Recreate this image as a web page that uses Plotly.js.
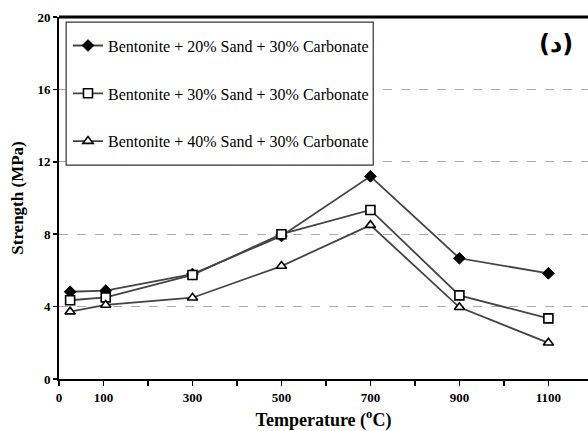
<!DOCTYPE html>
<html>
<head>
<meta charset="utf-8">
<script src="https://cdn.plot.ly/plotly-3.0.1.min.js"></script>
<style>html,body{margin:0;padding:0;background:#fff;}#chart{width:588px;height:431px;}</style>
</head>
<body>
<div id="chart"></div>
<script>
const temperature = [25, 105, 300, 500, 700, 900, 1100];
const sand20 = [4.82, 4.88, 5.8, 7.9, 11.2, 6.67, 5.84];
const sand30 = [4.35, 4.51, 5.75, 8.0, 9.34, 4.62, 3.35];
const sand40 = [3.72, 4.09, 4.49, 6.24, 8.5, 3.96, 2.0];
const seriesNames = [
  'Bentonite + 20% Sand + 30% Carbonate',
  'Bentonite + 30% Sand + 30% Carbonate',
  'Bentonite + 40% Sand + 30% Carbonate'
];
const xTickVals = [0, 100, 200, 300, 400, 500, 600, 700, 800, 900, 1000, 1100];
const xTickText = ['0', '100', '', '300', '', '500', '', '700', '', '900', '', '1100'];
const yTickVals = [0, 4, 8, 12, 16, 20];

const serif = 'Liberation Serif';
const lineColor = '#444444';

const traces = [
  {x: temperature, y: sand20, name: seriesNames[0], legendgroup: 'a',
   mode: 'lines+markers', line: {color: lineColor, width: 1.8},
   marker: {symbol: 'diamond', size: 9, color: '#000', line: {color: '#000', width: 1}}},
  {x: temperature, y: sand30, name: seriesNames[1], legendgroup: 'b',
   mode: 'lines+markers', line: {color: lineColor, width: 1.8},
   marker: {symbol: 'square', size: 9, color: '#fff', line: {color: '#000', width: 1.6}}},
  {x: temperature, y: sand40, name: seriesNames[2], legendgroup: 'c',
   mode: 'lines+markers', line: {color: lineColor, width: 1.8},
   marker: {symbol: 'triangle-up', size: 9, color: '#fff', line: {color: '#000', width: 1.6}}}
];

const layout = {
  width: 588, height: 431,
  margin: {l: 59, r: 0, t: 17, b: 52},
  paper_bgcolor: '#fff', plot_bgcolor: '#fff',
  font: {family: serif, color: '#000'},
  showlegend: true,
  legend: {
    x: 0.017, y: 0.968, xanchor: 'left', yanchor: 'top',
    bgcolor: 'rgba(0,0,0,0)', borderwidth: 0,
    font: {family: serif, size: 16, color: '#000'},
    tracegroupgap: 24, traceorder: 'grouped'
  },
  xaxis: {
    range: [0, 1189], tickvals: xTickVals, ticktext: xTickText,
    ticks: 'outside', ticklen: 5, tickwidth: 1.5, tickcolor: '#000',
    showline: true, linecolor: '#000', linewidth: 2,
    showgrid: false, zeroline: false,
    tickfont: {family: serif, size: 13, color: '#000', weight: 'bold'},
    title: {text: 'Temperature (<sup>o</sup>C)', standoff: 11,
            font: {family: serif, size: 18, color: '#000', weight: 'bold'}}
  },
  yaxis: {
    range: [0, 20], tickvals: yTickVals,
    ticks: 'outside', ticklen: 4, tickwidth: 1.5, tickcolor: '#000',
    showline: true, linecolor: '#000', linewidth: 2,
    showgrid: true, gridcolor: '#aaaaaa', gridwidth: 1, griddash: 'dash',
    zeroline: false,
    tickfont: {family: serif, size: 13, color: '#000', weight: 'bold'},
    title: {text: 'Strength (MPa)', standoff: 9,
            font: {family: serif, size: 17, color: '#000', weight: 'bold'}}
  },
  shapes: [
    {type: 'line', xref: 'paper', yref: 'paper', x0: 0, x1: 1, y0: 1, y1: 1,
     line: {color: '#000', width: 3}},
    {type: 'rect', xref: 'paper', yref: 'paper', layer: 'above',
     x0: 0.0135, x1: 0.594, y0: 0.591, y1: 0.986,
     fillcolor: 'rgba(255,255,255,1)', line: {color: '#333', width: 1.2}}
  ],
  annotations: [
    {text: '(د)', xref: 'paper', yref: 'paper', x: 0.94, y: 0.925,
     xanchor: 'center', yanchor: 'middle', showarrow: false,
     font: {family: 'DejaVu Sans', size: 24, color: '#000', weight: 'bold'}}
  ]
};

Plotly.newPlot('chart', traces, layout, {displayModeBar: false, staticPlot: true});
</script>
</body>
</html>
